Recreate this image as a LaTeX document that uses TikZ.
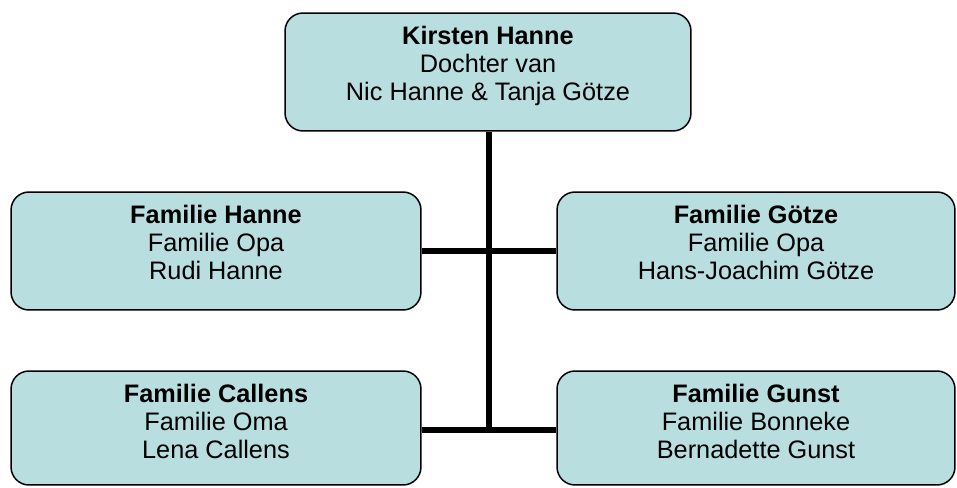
\documentclass[tikz,border=0pt]{standalone}
\usepackage{fontspec}
\setmainfont{Liberation Sans}
\usepackage{xcolor}
\usepackage{tikz}

\definecolor{cardfill}{RGB}{185,222,224}

\begin{document}
\begin{tikzpicture}
    [x=0.02cm,y=-0.02cm,
    font=\fontsize{14.4}{15.9}\selectfont,
    card/.style={shape=rectangle,rounded corners=0.36cm,draw=black,line width=0.85pt,fill=cardfill,minimum height=2.36cm},
    cardtext/.style={anchor=north,align=center,inner sep=0pt},
    link/.style={line width=3.4pt}]

    \useasboundingbox (0,0) rectangle (957,487);

    \node (kirsten) [card,minimum width=8.12cm] at (488,72) {};
    \node (hanne) [card,minimum width=8.2cm] at (216,251) {};
    \node (goetze) [card,minimum width=7.96cm] at (756,251) {};
    \node (callens) [card,minimum width=8.2cm,minimum height=2.28cm] at (216,428) {};
    \node (gunst) [card,minimum width=7.96cm,minimum height=2.28cm] at (756,428) {};

    \node (kirstentxt) [cardtext] at ([yshift=-0.28cm]kirsten.north) {\textbf{Kirsten Hanne}\\Dochter van\\Nic Hanne \& Tanja Götze};
    \node (hannetxt) [cardtext] at ([yshift=-0.28cm]hanne.north) {\textbf{Familie Hanne}\\Familie Opa\\Rudi Hanne};
    \node (goetzetxt) [cardtext] at ([yshift=-0.28cm]goetze.north) {\textbf{Familie Götze}\\Familie Opa\\Hans-Joachim Götze};
    \node (callenstxt) [cardtext] at ([yshift=-0.28cm]callens.north) {\textbf{Familie Callens}\\Familie Oma\\Lena Callens};
    \node (gunsttxt) [cardtext] at ([yshift=-0.28cm]gunst.north) {\textbf{Familie Gunst}\\Familie Bonneke\\Bernadette Gunst};

    \coordinate (stem) at (489,430);

    \draw [link] (kirsten.south -| stem) -- (stem);
    \draw [link] (hanne.east) -- (goetze.west);
    \draw [link] (callens.east |- stem) -- (gunst.west |- stem);
  \end{tikzpicture}
\end{document}
